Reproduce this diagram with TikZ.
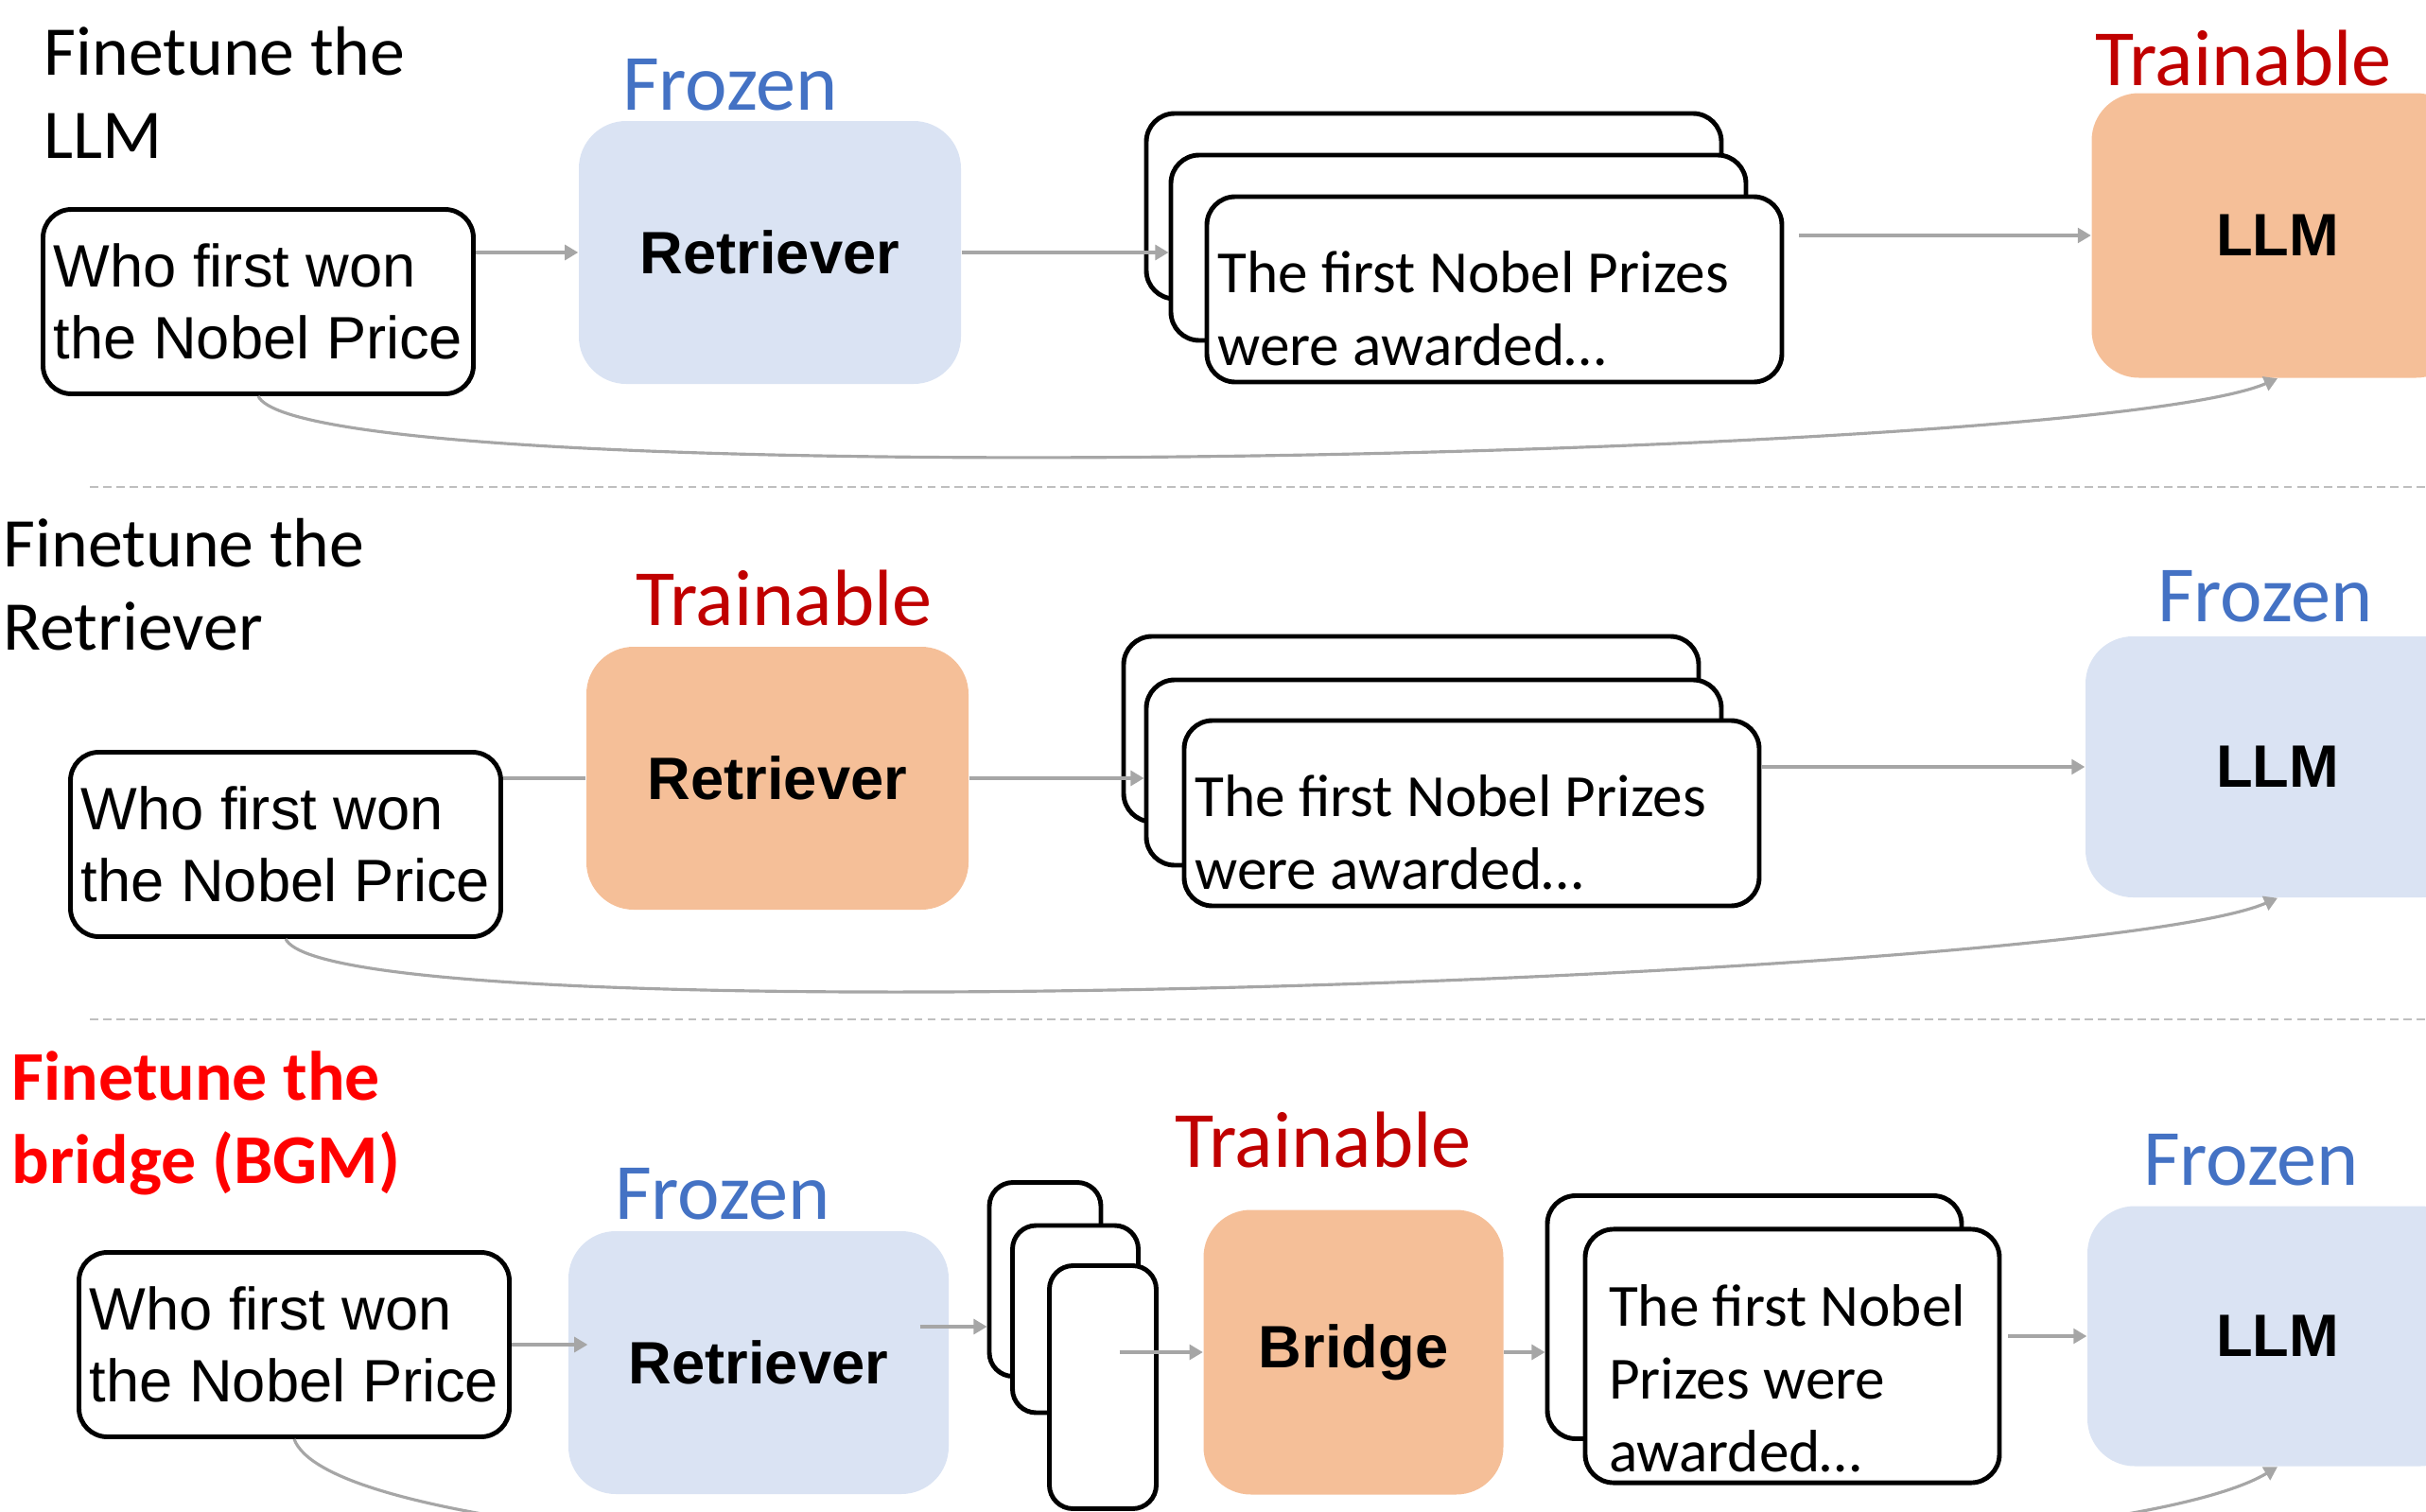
\documentclass[tikz,border=0pt]{standalone}
\usepackage{fontspec}
\setmainfont{Carlito}
\newfontfamily\arialfont{Liberation Sans}
\usetikzlibrary{arrows.meta,calc}
\definecolor{frozenblue}{RGB}{68, 114, 196}
\definecolor{trainred}{RGB}{192, 0, 0}
\definecolor{brightred}{RGB}{255, 0, 0}
\definecolor{paleblue}{RGB}{218, 227, 243}
\definecolor{paleorange}{RGB}{245, 191, 152}
\definecolor{linegray}{RGB}{166, 166, 166}
\definecolor{dashgray}{RGB}{191, 191, 191}

\tikzset{
    rowtitle/.style={anchor=west, align=left, inner sep=0pt, font=\fontsize{21}{25}\selectfont},
    statetag/.style={inner sep=0pt, font=\fontsize{24}{28}\selectfont},
    query/.style={draw, line width=1.4pt, rounded corners=0.3cm, fill=white, minimum width=4.55cm,
                  minimum height=1.95cm, inner sep=0.06cm, align=left, font=\arialfont\fontsize{18}{21.5}\selectfont},
    model/.style={rounded corners=0.5cm, minimum width=4.04cm, minimum height=2.78cm,
                  font=\arialfont\bfseries\fontsize{18}{21}\selectfont},
    doc/.style={draw, line width=1.4pt, rounded corners=0.3cm, fill=white, minimum height=1.96cm,
                text width=5.85cm, inner sep=0.115cm, align=flush left, font=\fontsize{18}{21.8}\selectfont,
                execute at begin node={\rule{0pt}{24pt}}},
    doctall/.style={doc, text width=3.88cm, inner xsep=0.25cm, minimum height=2.57cm,
                    execute at begin node={\rule{0pt}{26pt}}},
    slip/.style={draw, line width=1.4pt, rounded corners=0.25cm, fill=white, inner sep=0pt},
    conn/.style={linegray, line width=0.9pt, -{Triangle[length=4pt,width=4.5pt]}},
    rowsep/.style={dashgray, line width=0.6pt, dash pattern=on 2.5pt off 1.5pt}
}

\begin{document}
\begin{tikzpicture}
    % Frame to keep the page size:
    \useasboundingbox (0.00, 0.00) rectangle (25.65, -15.99);
    \clip             (0.00, 0.00) rectangle (25.65, -15.99);

    % Row 1: finetune the LLM
    \node[rowtitle]                    (t1) at ( 0.46,  -0.98) {Finetune the\\LLM};
    \node[statetag, text=frozenblue]   (z1) at ( 7.72,  -0.90) {Frozen};
    \node[statetag, text=trainred]     (z2) at (23.72,  -0.62) {Trainable};
    \node[query]                       (q1) at ( 2.73,  -3.19) {Who first won\\the Nobel Price};
    \node[model, fill=paleblue]        (r1) at ( 8.14,  -2.67) {Retriever};
    \node[doc]                         (b1) at (15.16,  -2.18) {};
    \node[doc]                         (m1) at (15.42,  -2.62) {};
    \node[doc]                         (f1) at (15.80,  -3.06) {The first Nobel Prizes\\were awarded…};
    \node[model, fill=paleorange, minimum width=3.93cm, minimum height=3.01cm]
                                       (l1) at (24.08,  -2.49) {LLM};

    \draw[conn] (q1.east |- r1.west) -- (r1.west);
    \draw[conn] (r1.east) -- (r1.east -| m1.west);
    \draw[conn, shorten <=0.16cm] (f1.east |- l1.west) -- (l1.west);
    \draw[conn] (q1.south) .. controls +(0.52,-1.06) and +(-2.00,-0.87) .. (l1.south);

    \draw[rowsep] (0.95, -5.15) -- (25.65, -5.15);

    % Row 2: finetune the retriever
    \node[rowtitle]                    (t2) at ( 0.03,  -6.18) {Finetune the\\Retriever};
    \node[statetag, text=trainred]     (z3) at ( 8.29,  -6.33) {Trainable};
    \node[statetag, text=frozenblue]   (z4) at (23.95,  -6.31) {Frozen};
    \node[query]                       (q2) at ( 3.02,  -8.93) {Who first won\\the Nobel Price};
    \node[model, fill=paleorange]      (r2) at ( 8.22,  -8.23) {Retriever};
    \node[doc]                         (b2) at (14.92,  -7.71) {};
    \node[doc]                         (m2) at (15.16,  -8.17) {};
    \node[doc]                         (f2) at (15.56,  -8.60) {The first Nobel Prizes\\were awarded…};
    \node[model, fill=paleblue, minimum width=4.06cm, minimum height=2.76cm]
                                       (l2) at (24.08,  -8.11) {LLM};

    \draw[linegray, line width=0.9pt] (q2.east |- r2.west) -- (r2.west);
    \draw[conn] (r2.east) -- (r2.east -| m2.west);
    \draw[conn] (f2.east |- l2.west) -- (l2.west);
    \draw[conn] (q2.south) .. controls +(0.52,-1.06) and +(-2.00,-0.87) .. (l2.south);

    \draw[rowsep] (0.95, -10.78) -- (25.65, -10.78);

    % Row 3: finetune the bridge
    \node[rowtitle, text=brightred, font=\bfseries\fontsize{21}{25}\selectfont]
                                       (t3) at ( 0.12, -11.88) {Finetune the\\bridge (BGM)};
    \node[statetag, text=frozenblue]   (z5) at ( 7.64, -12.63) {Frozen};
    \node[statetag, text=trainred]     (z6) at (13.99, -12.06) {Trainable};
    \node[statetag, text=frozenblue]   (z7) at (23.80, -12.27) {Frozen};
    \node[query]                       (q3) at ( 3.11, -14.22) {Who first won\\the Nobel Price};
    \node[model, fill=paleblue, minimum width=4.02cm]
                                       (r3) at ( 8.02, -14.41) {Retriever};
    \node[slip, minimum width=1.18cm, minimum height=2.05cm] (s1) at (11.05, -13.53) {};
    \node[slip, minimum width=1.33cm, minimum height=1.98cm] (s2) at (11.37, -13.95) {};
    \node[slip, minimum width=1.13cm, minimum height=2.57cm] (s3) at (11.66, -14.67) {};
    \node[model, fill=paleorange, minimum width=3.17cm, minimum height=3.01cm]
                                       (g3) at (14.31, -14.30) {Bridge};
    \node[doctall]                     (d1) at (18.55, -13.93) {};
    \node[doctall]                     (d2) at (18.95, -14.34) {The first Nobel\\Prizes were\\awarded…};
    \node[model, fill=paleblue, minimum width=4.02cm, minimum height=2.75cm]
                                       (l3) at (24.08, -14.13) {LLM};

    \draw[conn] (q3.east) -- ($(q3.east -| r3.west)+(0.21,0)$);
    \draw[conn] ($(r3.east)+(-0.31,0.38)$) -- ($(r3.east -| s1.west)+(0,0.38)$);
    \draw[conn] ($(s3.east |- g3.west)+(-0.41,0)$) -- (g3.west);
    \draw[conn] (g3.east) -- (g3.east -| d1.west);
    \draw[conn, shorten <=0.07cm] (d2.east |- l3.west) -- (l3.west);
    \draw[conn] (q3.south) .. controls +(0.65,-1.73) and +(-2.32,-1.39) .. (l3.south);
\end{tikzpicture}
\end{document}
